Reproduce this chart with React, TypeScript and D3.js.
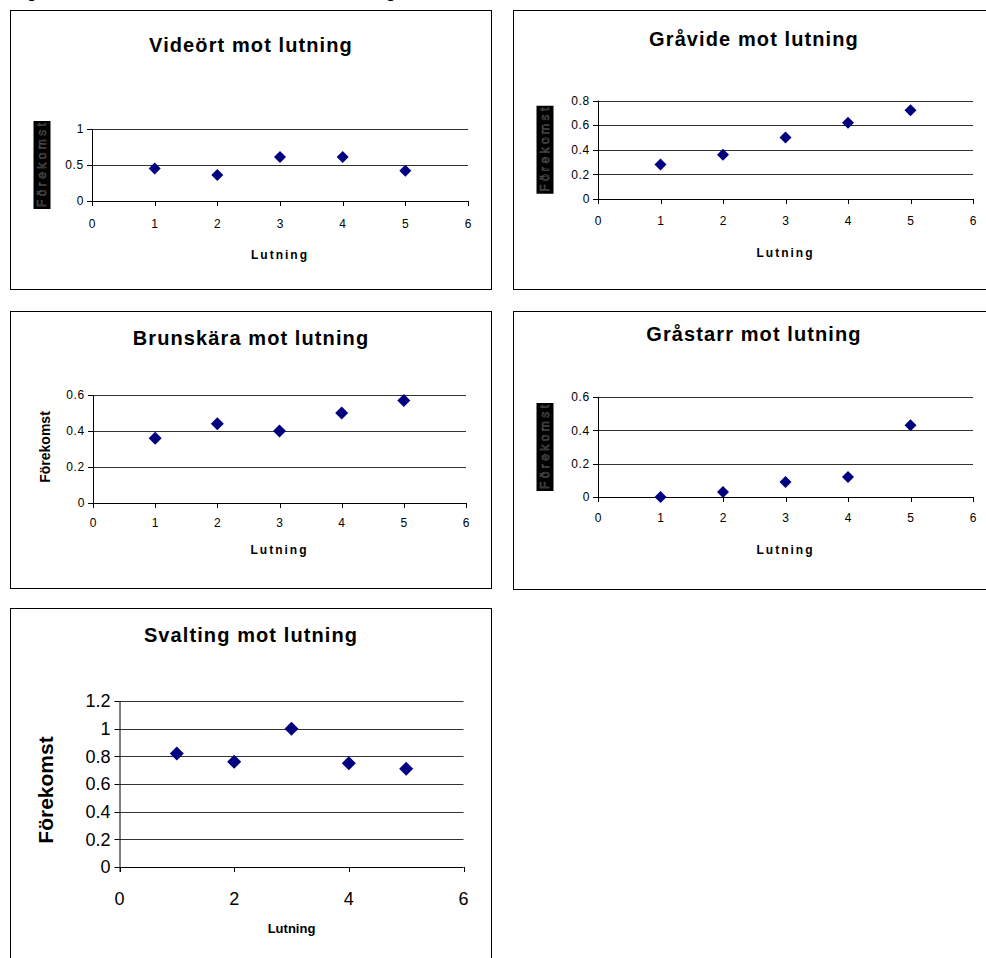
import React from 'react';
import * as d3 from 'd3';

// Lutning (x) är samma för alla diagram
const lutning = [1, 2, 3, 4, 5];

// Förekomst per art
const videort = [0.45, 0.36, 0.61, 0.61, 0.42];
const gravide = [0.28, 0.36, 0.5, 0.62, 0.72];
const brunskara = [0.36, 0.44, 0.4, 0.5, 0.57];
const grastarr = [0, 0.03, 0.09, 0.12, 0.43];
const svalting = [0.82, 0.76, 1.0, 0.75, 0.71];

// Axelns tick-värden
const xTicks = [0, 1, 2, 3, 4, 5, 6];
const xTicksWide = [0, 2, 4, 6];
const yTicksVideort = [0, 0.5, 1];
const yTicksGravide = [0, 0.2, 0.4, 0.6, 0.8];
const yTicksSix = [0, 0.2, 0.4, 0.6];
const yTicksSvalting = [0, 0.2, 0.4, 0.6, 0.8, 1, 1.2];

const titles = [
  'Videört mot lutning',
  'Gråvide mot lutning',
  'Brunskära mot lutning',
  'Gråstarr mot lutning',
  'Svalting mot lutning',
];

const FONT = '"Liberation Sans", Arial, sans-serif';
const NAVY = '#000080';

type Panel = {
  title: string;
  values: number[];
  yTicks: number[];
  xTicks: number[];
  box: [number, number, number, number]; // x, y, w, h
  plot: [number, number, number, number]; // left, right, top, bottom
  titleY: number;
  labelStyle: 'boxed' | 'plain' | 'big';
  tickSize: number;
  xLabelY: number;
  lutY: number;
  marker: number;
};

const panels: Panel[] = [
  {
    title: titles[0], values: videort, yTicks: yTicksVideort, xTicks,
    box: [10.5, 10.5, 481, 279], plot: [92, 468, 129, 201], titleY: 52,
    labelStyle: 'boxed', tickSize: 12, xLabelY: 228, lutY: 259, marker: 12,
  },
  {
    title: titles[1], values: gravide, yTicks: yTicksGravide, xTicks,
    box: [513.5, 10.5, 490, 279], plot: [598, 973, 100.5, 199], titleY: 46,
    labelStyle: 'boxed', tickSize: 12, xLabelY: 225, lutY: 257, marker: 12,
  },
  {
    title: titles[2], values: brunskara, yTicks: yTicksSix, xTicks,
    box: [10.5, 311.5, 481, 277], plot: [93, 466, 395, 503], titleY: 345,
    labelStyle: 'plain', tickSize: 12, xLabelY: 527, lutY: 554, marker: 13,
  },
  {
    title: titles[3], values: grastarr, yTicks: yTicksSix, xTicks,
    box: [513.5, 311.5, 490, 278], plot: [598, 973, 397, 497], titleY: 341,
    labelStyle: 'boxed', tickSize: 12, xLabelY: 522, lutY: 554, marker: 12,
  },
  {
    title: titles[4], values: svalting, yTicks: yTicksSvalting, xTicks: xTicksWide,
    box: [10.5, 608.5, 481, 360], plot: [119.5, 463.5, 701, 867], titleY: 642,
    labelStyle: 'big', tickSize: 18, xLabelY: 905, lutY: 933, marker: 14,
  },
];

const ScatterPanel = ({ p }: { p: Panel }) => {
  const [left, right, top, bottom] = p.plot;
  const [bx, by, bw, bh] = p.box;
  const xMax = p.xTicks[p.xTicks.length - 1];
  const yMax = p.yTicks[p.yTicks.length - 1];
  const x = d3.scaleLinear().domain([0, xMax]).range([left, right]);
  const y = d3.scaleLinear().domain([0, yMax]).range([bottom, top]);
  const side = p.marker / Math.SQRT2;
  const diamond = d3.symbol().type(d3.symbolSquare).size(side * side)();
  const fmt = (v: number) => (v === 0 ? '0' : String(+v.toFixed(1)));
  const titleX = bx + Math.min(bw, 481) / 2;
  const plotMidY = (top + bottom) / 2;
  const big = p.labelStyle === 'big';
  const tickSpacing = big ? 0 : 0.7;

  return (
    <g>
      <rect x={bx} y={by} width={bw} height={bh} fill="white" stroke="#000" strokeWidth={1} />
      <text x={titleX} y={p.titleY} textAnchor="middle" fontFamily={FONT} fontWeight="bold" fontSize={20}
        letterSpacing={1.1}>
        {p.title}
      </text>

      {/* stödlinjer */}
      {p.yTicks.filter(t => t > 0).map(t => (
        <line key={'g' + t} x1={left} x2={right} y1={Math.round(y(t)) + 0.5} y2={Math.round(y(t)) + 0.5}
          stroke="#333" strokeWidth={1} />
      ))}

      {/* y-axel */}
      <line x1={left + 0.5} x2={left + 0.5} y1={top} y2={bottom + 5} stroke="#000" />
      {p.yTicks.map(t => (
        <g key={'y' + t}>
          <line x1={left - 5} x2={left} y1={Math.round(y(t)) + 0.5} y2={Math.round(y(t)) + 0.5} stroke="#000" />
          <text x={left - (big ? 9 : 8)} y={y(t)} dy="0.35em" textAnchor="end"
            fontFamily={FONT} fontSize={p.tickSize} letterSpacing={tickSpacing}>
            {fmt(t)}
          </text>
        </g>
      ))}

      {/* x-axel */}
      <line x1={left} x2={right} y1={bottom + 0.5} y2={bottom + 0.5} stroke="#000" />
      {p.xTicks.map(t => (
        <g key={'x' + t}>
          <line x1={Math.round(x(t)) + 0.5} x2={Math.round(x(t)) + 0.5} y1={bottom} y2={bottom + 5} stroke="#000" />
          <text x={x(t)} y={p.xLabelY} textAnchor="middle" fontFamily={FONT} fontSize={p.tickSize}>
            {t}
          </text>
        </g>
      ))}

      <text x={(left + right) / 2} y={p.lutY} textAnchor="middle" fontFamily={FONT} fontWeight="bold"
        fontSize={big ? 13 : 12} letterSpacing={big ? 0 : 2}>
        Lutning
      </text>

      {/* y-etikett */}
      {p.labelStyle === 'boxed' && (
        <g transform={`translate(${bx + 31},${plotMidY})`}>
          <rect x={-8} y={-44} width={17} height={88} fill="#000" />
          <text transform="rotate(-90)" x={0} y={0} dy="0.35em" textAnchor="middle" fontFamily={FONT}
            fontSize={12} fill="none" stroke="#666" strokeWidth={0.5} textLength={84}>
            Förekomst
          </text>
        </g>
      )}
      {p.labelStyle === 'plain' && (
        <text transform={`translate(${bx + 35},${plotMidY - 2}) rotate(-90)`} dy="0.35em" textAnchor="middle"
          fontFamily={FONT} fontWeight="bold" fontSize={14}>
          Förekomst
        </text>
      )}
      {big && (
        <text transform={`translate(${bx + 35},${plotMidY + 6}) rotate(-90)`} dy="0.35em" textAnchor="middle"
          fontFamily={FONT} fontWeight="bold" fontSize={21}>
          Förekomst
        </text>
      )}

      {/* punkter */}
      {p.values.map((v, i) => (
        <path key={'p' + i} d={diamond || ''} fill={NAVY}
          transform={`translate(${x(lutning[i])},${y(v)}) rotate(45)`} />
      ))}
    </g>
  );
};

export default function App() {
  return (
    <div style={{ position: 'absolute', left: 0, top: 0 }}>
      <svg width={986} height={958} style={{ display: 'block', background: '#fff' }}>
        <text x={2} y={-2} fontFamily={FONT} fontWeight="bold" fontSize={16}>
          Diagram: förekomst av arter i förhållande till lutning
        </text>
        {panels.map(p => (
          <ScatterPanel key={p.title} p={p} />
        ))}
      </svg>
    </div>
  );
}
